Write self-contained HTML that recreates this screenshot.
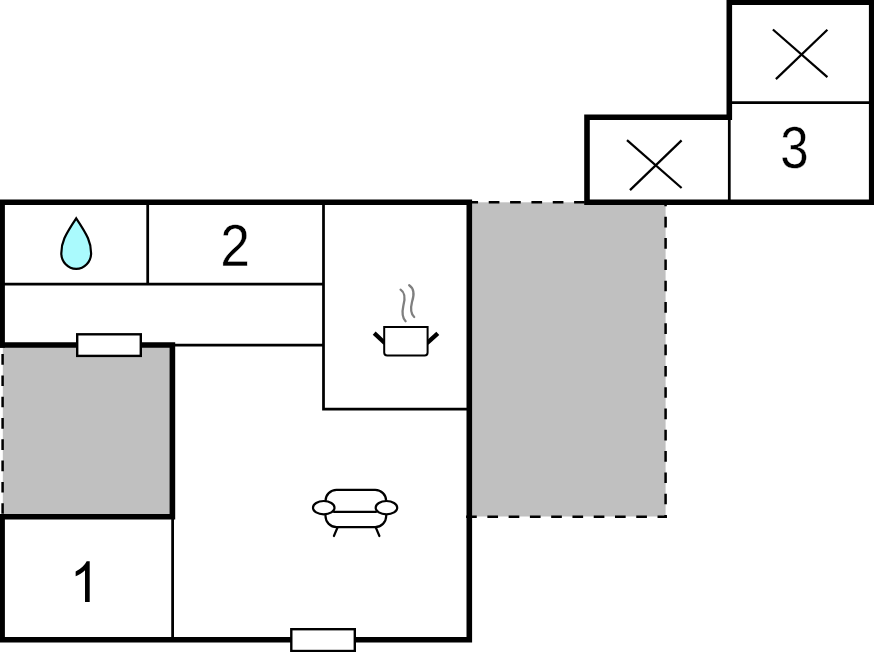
<!DOCTYPE html>
<html>
<head>
<meta charset="utf-8">
<title>Floor plan</title>
<style>
html,body{margin:0;padding:0;background:#fff;}
body{width:874px;height:652px;overflow:hidden;font-family:"Liberation Sans",sans-serif;}
svg{display:block;}
text{font-family:"Liberation Sans",sans-serif;fill:#000;}
</style>
</head>
<body>
<svg width="874" height="652" viewBox="0 0 874 652">
<rect x="0" y="0" width="874" height="652" fill="#ffffff"/>

<!-- grey terraces -->
<rect x="469" y="202.3" width="196.6" height="314.2" fill="#c0c0c0"/>
<rect x="2.8" y="345" width="170" height="172" fill="#c0c0c0"/>

<!-- dashed outlines -->
<g fill="none" stroke="#000" stroke-width="2.5">
  <line x1="467.4" y1="202.3" x2="665.6" y2="202.3" stroke-dasharray="10.67 10.67"/>
  <line x1="665.6" y1="204" x2="665.6" y2="517.9" stroke-dasharray="10.67 10.63" stroke-dashoffset="8.5"/>
  <line x1="466.1" y1="516.7" x2="666.9" y2="516.7" stroke-dasharray="10.67 10.6"/>
  <line x1="2.6" y1="354.1" x2="2.6" y2="514" stroke-dasharray="10.67 10.63"/>
</g>

<!-- thin interior lines -->
<g fill="none" stroke="#000" stroke-width="2.75">
  <line x1="147.7" y1="204" x2="147.7" y2="284"/>
  <line x1="4" y1="284" x2="323.5" y2="284"/>
  <line x1="174" y1="345.2" x2="323.5" y2="345.2"/>
  <polyline points="323.5,204 323.5,409.2 468,409.2"/>
  <line x1="172.6" y1="518" x2="172.6" y2="638"/>
  <line x1="729.3" y1="118" x2="729.3" y2="201"/>
  <line x1="731" y1="102.6" x2="870" y2="102.6"/>
</g>

<!-- thick walls -->
<g fill="none" stroke="#000" stroke-width="5.6" stroke-linejoin="miter" stroke-linecap="butt">
  <!-- main house -->
  <polyline points="2.1,347.7 2.1,202.3 469.3,202.3 469.3,639.8 2.1,639.8 2.1,514"/>
  <polyline points="-1,345 172.4,345 172.4,516.7 -1,516.7"/>
  <!-- annex -->
  <polyline points="587,205 587,117.3 729.3,117.3 729.3,2.1 871.7,2.1 871.7,202.3 584.3,202.3"/>
</g>

<!-- windows / doors -->
<g fill="#fff" stroke="#000" stroke-width="2.4">
  <rect x="77.2" y="334.3" width="63.6" height="21.6"/>
  <rect x="291.3" y="629.2" width="63.5" height="21.8"/>
</g>

<!-- crosses -->
<g fill="none" stroke="#000" stroke-width="2.25">
  <line x1="772.9" y1="29.5" x2="827.4" y2="77.1"/>
  <line x1="827.4" y1="29.7" x2="775.9" y2="79.1"/>
  <line x1="627" y1="140.2" x2="681.6" y2="188"/>
  <line x1="681.6" y1="140.4" x2="630" y2="190.1"/>
</g>

<!-- water drop -->
<path d="M76.2 218.3 C64.6 235.6 61.3 242.5 61.3 253.2 A14.9 15.7 0 0 0 91.1 253.2 C91.1 242.5 87.8 235.6 76.2 218.3 Z" fill="#aafafd" stroke="#000" stroke-width="2.2" stroke-linejoin="miter"/>

<!-- cooking pot -->
<g fill="none" stroke="#7f7f7f" stroke-width="2.3" stroke-linecap="round">
  <path d="M400.6 289.6 C406 293 405 300 403.3 306 C402 312 402.5 318 405.6 321.2"/>
  <path d="M409.2 285.2 C415 289 414 296 412 302 C410.5 308 411 314 414.2 317"/>
</g>
<g stroke="#000" fill="none">
  <line x1="374.2" y1="333.1" x2="385" y2="343.2" stroke-width="4.3"/>
  <line x1="437.8" y1="333.3" x2="427" y2="343.2" stroke-width="4.3"/>
  <path d="M384.2 326.9 H427.6 V352.4 Q427.6 355.4 424.6 355.4 H387.2 Q384.2 355.4 384.2 352.4 Z" fill="#fff" stroke-width="2"/>
</g>

<!-- sofa -->
<g fill="#fff" stroke="#000" stroke-width="2.2" stroke-linecap="round">
  <line x1="337.4" y1="527.8" x2="333.9" y2="536"/>
  <line x1="375.9" y1="527.8" x2="379.4" y2="536"/>
  <rect x="325.5" y="489.9" width="60.7" height="37.2" rx="11" ry="11"/>
  <line x1="334" y1="511.9" x2="376" y2="511.9"/>
  <ellipse cx="323.75" cy="507.7" rx="10.75" ry="6.7"/>
  <ellipse cx="386.45" cy="507.7" rx="10.75" ry="6.7"/>
</g>

<!-- room numbers -->
<text transform="translate(220.19 265.98) scale(0.5334 0.58934)" x="0" y="0" font-size="100" stroke="#fff" stroke-width="0.35" vector-effect="non-scaling-stroke">2</text>
<text transform="translate(780.18 167.8) scale(0.51147 0.5904)" x="0" y="0" font-size="100" stroke="#fff" stroke-width="0.35" vector-effect="non-scaling-stroke">3</text>
<path transform="translate(69.848 602) scale(0.026019 -0.027717)" d="M763 0H583V1147Q518 1085 412.5 1023Q307 961 223 930V1104Q374 1175 487 1276Q600 1377 647 1472H763Z" fill="#000" aria-label="1"/>
</svg>
</body>
</html>
